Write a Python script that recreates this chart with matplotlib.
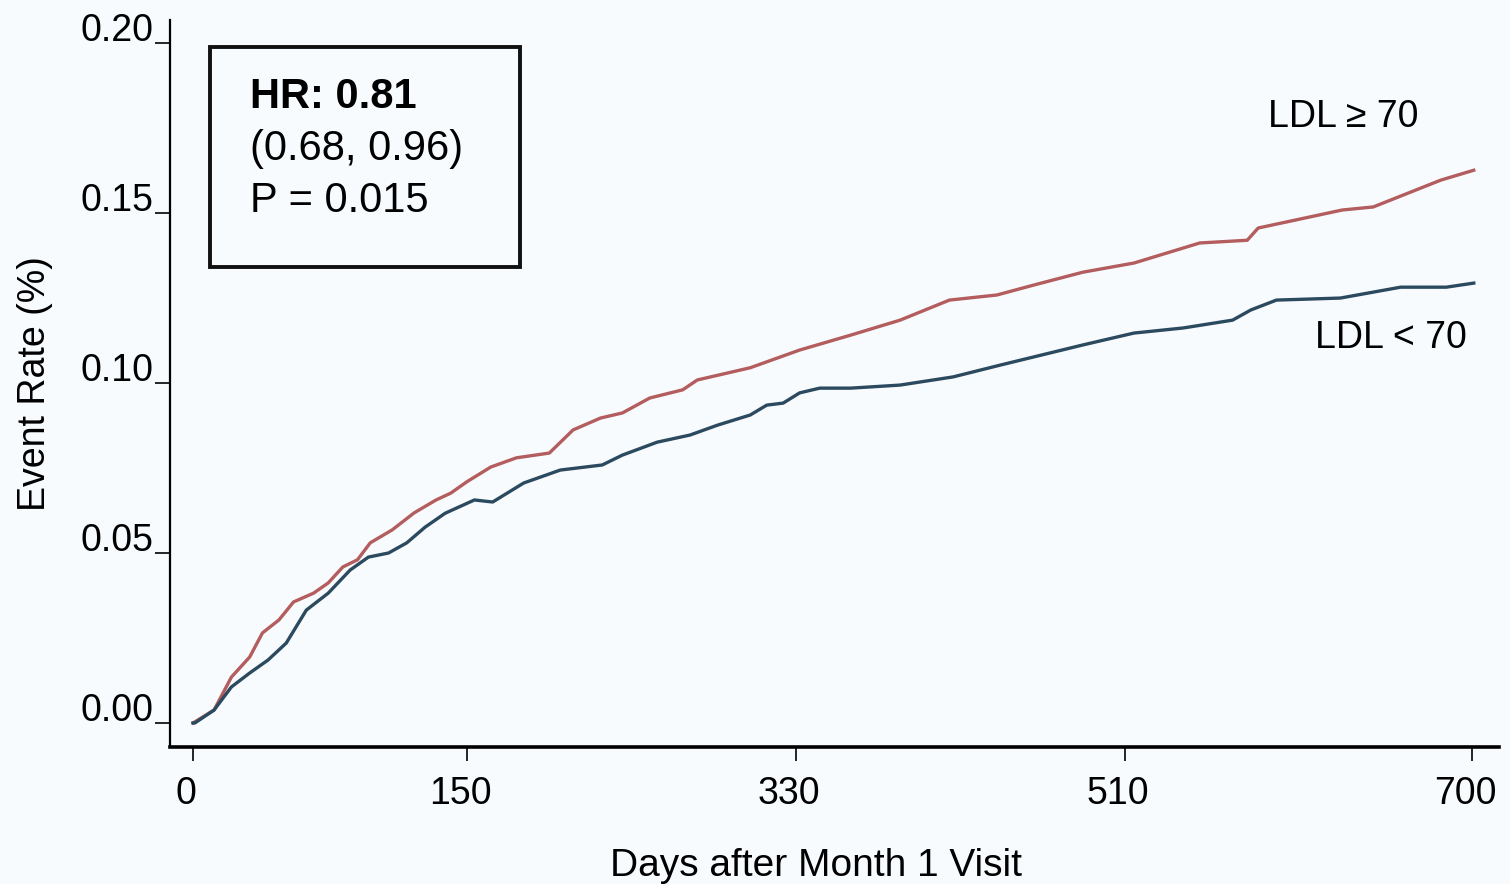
import numpy as np
import matplotlib
matplotlib.use("Agg")
import matplotlib.pyplot as plt
from matplotlib.patches import Rectangle
from matplotlib.transforms import ScaledTranslation

plt.rcParams['font.family'] = ['Liberation Sans', 'DejaVu Sans']

# cumulative event rate by days after the month 1 visit
days_hi = [0, 11.5, 21, 31, 38, 47, 55, 66, 74, 82, 90, 97, 109, 121, 133, 141,
           150, 163, 177, 195, 208, 223, 235, 250, 268, 276, 305, 332, 360, 387,
           414, 440, 460, 487, 515, 551, 577, 583, 629, 646, 683, 701]
rate_hi = [0, .0038, .0135, .0194, .0265, .0303, .0356, .0382, .0412, .0459, .048,
           .053, .0568, .0618, .0656, .0676, .071, .0753, .078, .0794, .0862,
           .0897, .0912, .0956, .098, .1009, .1045, .1097, .1141, .1185, .1244,
           .1259, .1288, .1326, .1353, .1412, .142, .1456, .1509, .1518, .1597,
           .1626]

days_lo = [0, 1, 11.5, 21, 31, 41, 51, 62, 74, 86, 96, 107, 117, 127, 138, 154,
           164, 181, 201, 224, 235, 254, 272, 287, 305, 314, 323, 332, 343, 360,
           387, 416, 442, 487, 515, 542, 569, 579, 593, 628, 661, 686, 701]
rate_lo = [0, 0, .0038, .0106, .0147, .0185, .0235, .0332, .0382, .045, .0488,
           .05, .053, .0576, .0617, .0656, .065, .0706, .0744, .0759, .0788,
           .0826, .0847, .0876, .0906, .0935, .0941, .0971, .0985, .0985, .0994,
           .1018, .1053, .1112, .1147, .1162, .1185, .1215, .1244, .125, .1282,
           .1282, .1294]

xticks = [0, 150, 330, 510, 700]
yticks = [0.00, 0.05, 0.10, 0.15, 0.20]

bg = '#f8fbfd'
fig = plt.figure(figsize=(15.1, 8.84), dpi=100, facecolor=bg)
ax = fig.add_axes([0.1126, 0.155, 0.8801, 0.8224], facecolor=bg)

ax.plot(days_hi, rate_hi, color='#b35d5f', lw=2.4)
ax.plot(days_lo, rate_lo, color='#2b4a5f', lw=2.4)

ax.set_xlim(-12.6, 714.8)
ax.set_ylim(-0.00706, 0.2068)
ax.set_xticks(xticks)
ax.set_xticklabels([str(t) for t in xticks])
ax.set_yticks(yticks)
ax.set_yticklabels(['%.2f' % t for t in yticks])

for s in ['top', 'right']:
    ax.spines[s].set_visible(False)
ax.spines['left'].set_linewidth(1.6)
ax.spines['bottom'].set_linewidth(2.6)

ax.tick_params(axis='x', length=10, width=1.2, pad=11, labelsize=27)
ax.tick_params(axis='y', length=11, width=1.2, pad=1, labelsize=27)

# labels sit slightly off their ticks
for lbl in ax.get_xticklabels():
    lbl.set_transform(lbl.get_transform() + ScaledTranslation(-0.07, 0, fig.dpi_scale_trans))
for lbl in ax.get_yticklabels():
    lbl.set_transform(lbl.get_transform() + ScaledTranslation(0, 0.16, fig.dpi_scale_trans))

ax.set_xlabel('Days after Month 1 Visit', fontsize=28)
ax.xaxis.set_label_coords(0.486, -0.164)
ax.xaxis.label.set_verticalalignment('center')
ax.set_ylabel('Event Rate (%)', fontsize=27)
ax.yaxis.set_label_coords(-0.1016, 0.5)
ax.yaxis.label.set_verticalalignment('center')

# hazard ratio box
ax.add_patch(Rectangle((0.030, 0.660), 0.2334, 0.3029, transform=ax.transAxes,
                       fill=False, lw=2.8, edgecolor='#111111', clip_on=False))
ax.text(0.0602, 0.879, 'HR: 0.81', transform=ax.transAxes, fontsize=30,
        fontweight='bold', va='baseline')
ax.text(0.0602, 0.807, '(0.68, 0.96)', transform=ax.transAxes, fontsize=30,
        va='baseline')
ax.text(0.0602, 0.736, 'P = 0.015', transform=ax.transAxes, fontsize=30,
        va='baseline')

ax.text(0.826, 0.853, 'LDL \u2265 70', transform=ax.transAxes, fontsize=27,
        va='baseline')
ax.text(0.8616, 0.549, 'LDL < 70', transform=ax.transAxes, fontsize=27,
        va='baseline')

fig.savefig('out.png', dpi=100, facecolor=bg)
